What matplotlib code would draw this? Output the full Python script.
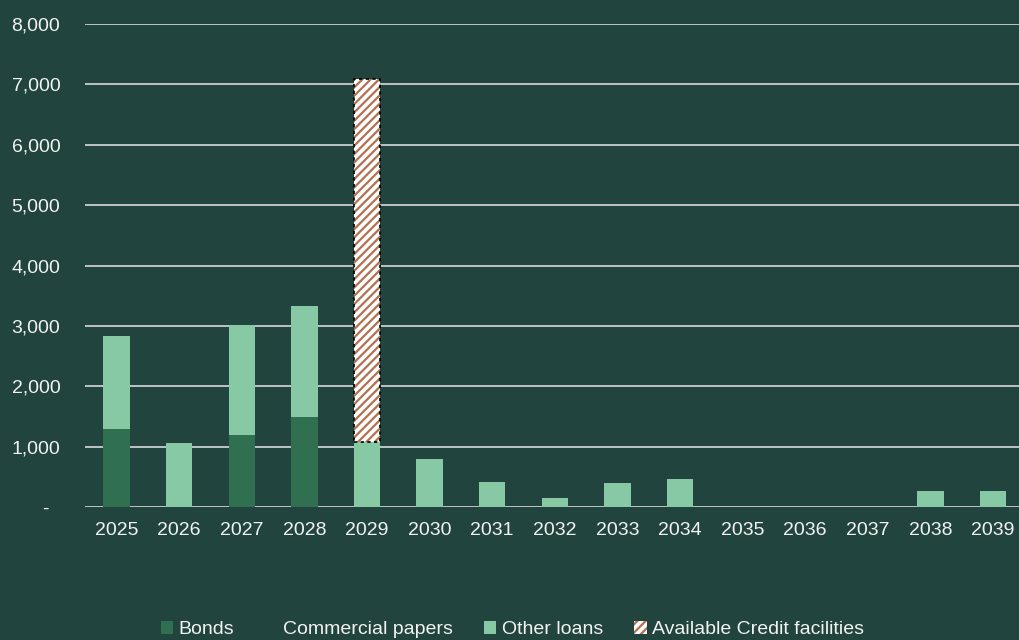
import matplotlib.pyplot as plt
import numpy as np

plt.rcParams['font.family'] = ['Liberation Sans', 'DejaVu Sans']
plt.rcParams['hatch.linewidth'] = 1.6

years = ['2025', '2026', '2027', '2028', '2029', '2030', '2031', '2032',
         '2033', '2034', '2035', '2036', '2037', '2038', '2039']
bonds = [1290, 0, 1190, 1490, 0, 0, 0, 0, 0, 0, 0, 0, 0, 0, 0]
commercial_papers = [0] * 15
other_loans = [1535, 1060, 1830, 1840, 1085, 800, 410, 150, 400, 460, 0, 0, 0, 265, 265]
credit_facilities = [0, 0, 0, 0, 6005, 0, 0, 0, 0, 0, 0, 0, 0, 0, 0]
yticks = [0, 1000, 2000, 3000, 4000, 5000, 6000, 7000, 8000]
ytick_labels = ['-  ', '1,000', '2,000', '3,000', '4,000', '5,000', '6,000', '7,000', '8,000']

bg = '#21443f'
fg = '#f2f2f2'

fig = plt.figure(figsize=(10.19, 6.4), dpi=100, facecolor=bg)
ax = fig.add_axes([0.0837, 0.2078, 0.9215, 0.7547])
ax.set_facecolor(bg)

x = np.arange(len(years))
w = 0.42
b1 = np.array(bonds)
b2 = b1 + np.array(commercial_papers)
b3 = b2 + np.array(other_loans)

ax.bar(x, bonds, w, color='#307050', label='Bonds', zorder=3)
ax.bar(x, commercial_papers, w, bottom=b1, color=bg, label='Commercial papers', zorder=3)
ax.bar(x, other_loans, w, bottom=b2, color='#88c9a5', label='Other loans', zorder=3)
# hatched credit facilities bar
cf = np.array(credit_facilities)
ax.bar(x, cf, w, bottom=b3, color='white', edgecolor='#b27250', hatch='////',
       linewidth=0, zorder=3)
ax.bar(x[cf > 0], cf[cf > 0], w, bottom=b3[cf > 0], fill=False, edgecolor='black',
       linestyle=(0, (2, 2)), linewidth=1.2, zorder=4)
h_cf = plt.Rectangle((0, 0), 1, 1, facecolor='white', edgecolor='#b27250', hatch='////',
                     linewidth=0)

ax.set_xlim(-0.5, 14.5)
ax.set_ylim(0, 8000)
ax.set_yticks(yticks)
ax.set_yticklabels(ytick_labels)
ax.set_xticks(x)
ax.set_xticklabels(years)
ax.grid(axis='y', color='#d9d9d9', linewidth=1.2, zorder=0)
for s in ax.spines.values():
    s.set_visible(False)
ax.tick_params(length=0, colors=fg, labelsize=14)
ax.tick_params(axis='y', pad=18)
ax.tick_params(axis='x', pad=11)

handles, labels = ax.get_legend_handles_labels()
handles.append(h_cf)
labels.append('Available Credit facilities')
leg = fig.legend(handles, labels, loc='center', bbox_to_anchor=(0.503, 0.016), ncol=4,
                 frameon=False, fontsize=14, handlelength=0.62, handleheight=0.62,
                 handletextpad=0.3, columnspacing=1.6, borderpad=0)
for t in leg.get_texts():
    t.set_color(fg)

fig.savefig('out.png', dpi=100, facecolor=bg)
